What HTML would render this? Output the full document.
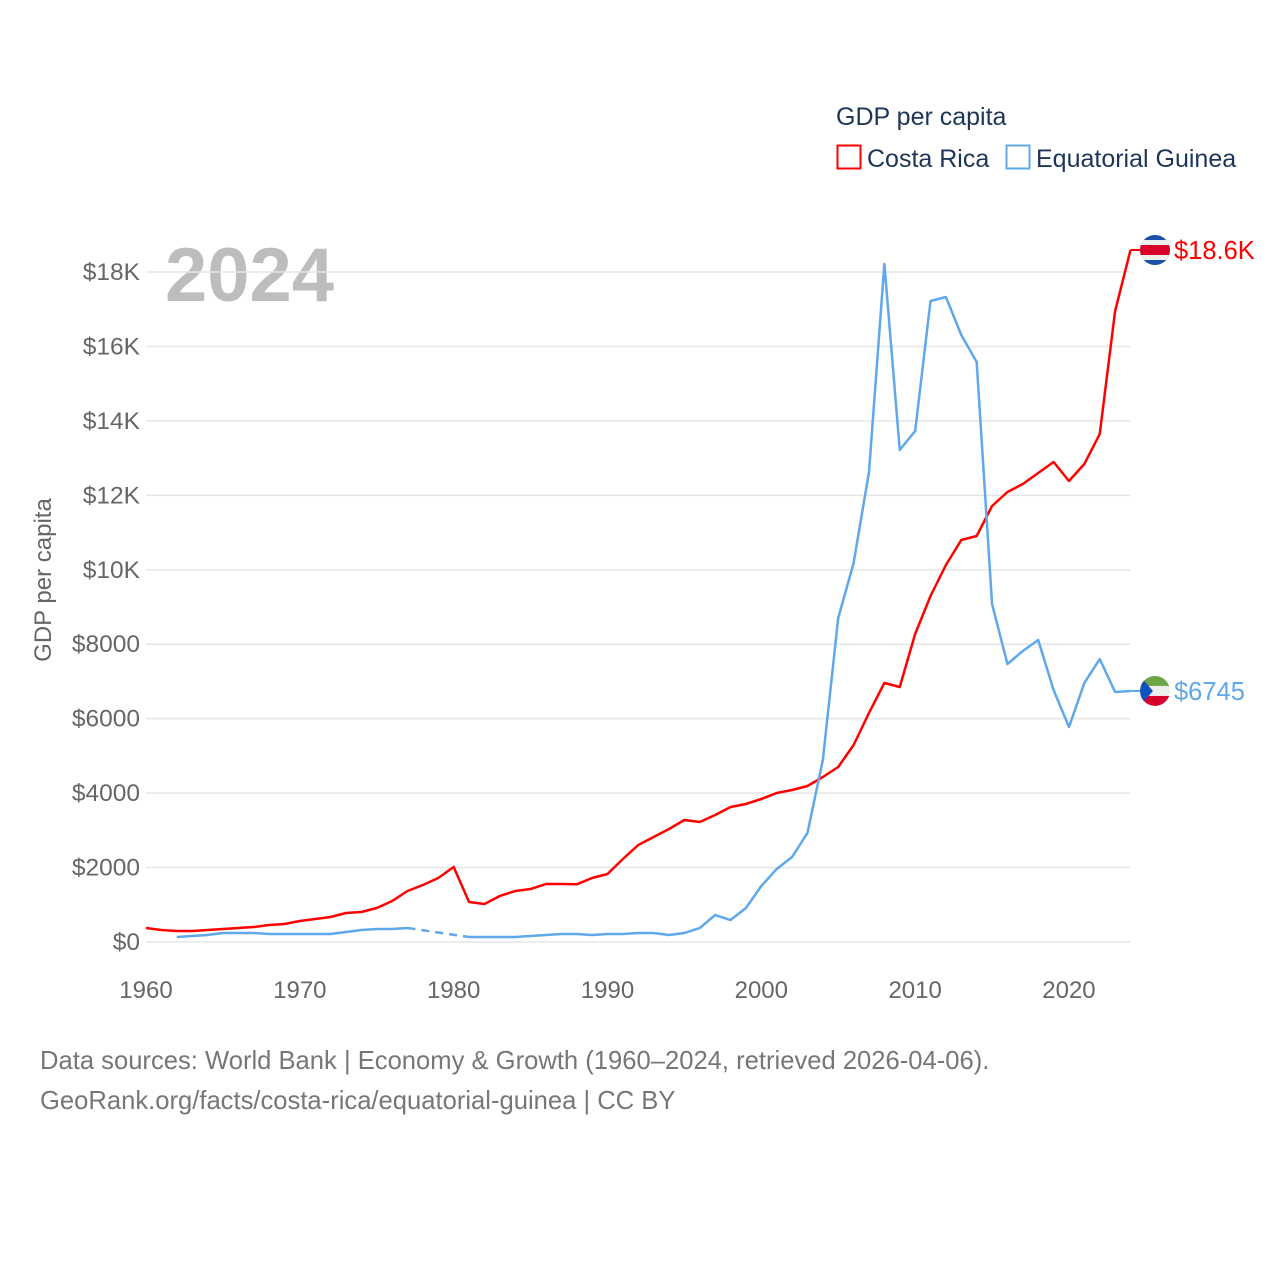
<!DOCTYPE html>
<html><head><meta charset="utf-8"><style>
html,body{margin:0;padding:0;background:#fff;}
svg{display:block;font-family:"Liberation Sans",sans-serif;}
</style></head><body>
<svg id="chart" width="1280" height="1280" viewBox="0 0 1280 1280">
  <g>
    <text x="836" y="125" font-size="25" fill="#1d3557">GDP per capita</text>
    <rect x="837.5" y="145.5" width="23" height="23" fill="none" stroke="#f00" stroke-width="2"/>
    <text x="867" y="167" font-size="25" fill="#1d3557">Costa Rica</text>
    <rect x="1006.5" y="145.5" width="23" height="23" fill="none" stroke="#5fa8ea" stroke-width="2"/>
    <text x="1036" y="167" font-size="25" fill="#1d3557">Equatorial Guinea</text>
  </g>
  <text x="165" y="301" font-size="76" font-weight="bold" fill="#bdbdbd">2024</text>
  <g id="grid"></g>
  <g id="axes"></g>
  <g id="series"></g>
  <text transform="translate(51,580) rotate(-90)" text-anchor="middle" font-size="24" fill="#666">GDP per capita</text>
  <text x="40" y="1069" font-size="25.6" fill="#777">Data sources: World Bank | Economy &amp; Growth (1960–2024, retrieved 2026-04-06).</text>
  <text x="40" y="1109" font-size="25.6" fill="#777">GeoRank.org/facts/costa-rica/equatorial-guinea | CC BY</text>
</svg>
<script>
const years = [];
for (let y = 1960; y <= 2024; y++) years.push(y);
const costaRica = [376,322,296,296,322,349,376,403,457,484,564,618,672,779,806,913,1101,1370,1531,1719,2015,1075,1021,1236,1370,1424,1558,1558,1550,1719,1827,2230,2606,2821,3036,3278,3224,3412,3627,3708,3842,4003,4084,4191,4433,4702,5293,6153,6959,6851,8275,9296,10129,10801,10908,11714,12090,12305,12601,12896,12386,12843,13648,16953,18592];
const eqGuinea = [null,null,134,161,188,242,242,242,215,215,215,215,215,269,322,349,349,376,null,null,null,134,134,134,134,161,188,215,215,188,215,215,242,242,188,242,376,725,591,913,1505,1961,2284,2929,4890,8705,10183,12628,18216,13219,13729,17222,17329,16308,15583,9081,7469,7818,8114,6771,5776,6959,7603,6717,6745];
const yTicks = [0,2000,4000,6000,8000,10000,12000,14000,16000,18000];
const yTickLabels = ["$0","$2000","$4000","$6000","$8000","$10K","$12K","$14K","$16K","$18K"];
const xTicks = [1960,1970,1980,1990,2000,2010,2020];
const endLabels = ["$18.6K","$6745"];

const NS = "http://www.w3.org/2000/svg";
const X0 = 146, X1 = 1130.5, Y0 = 942, PER = 0.03722;
function xs(yr){ return X0 + (yr - 1960) * (X1 - X0) / 64; }
function ys(v){ return Y0 - v * PER; }
function mk(tag, attrs, parent){ const e = document.createElementNS(NS, tag); for (const k in attrs) e.setAttribute(k, attrs[k]); parent.appendChild(e); return e; }

const grid = document.getElementById('grid'), axes = document.getElementById('axes'), series = document.getElementById('series');
yTicks.forEach((t, i) => {
  const l = mk('line', {x1: X0, x2: X1, y1: ys(t), y2: ys(t), stroke: '#e6e6e6', 'stroke-width': 1.5}, grid);
  
  
  const tx = mk('text', {x: 140, y: ys(t) + 8, 'text-anchor': 'end', 'font-size': 24.5, fill: '#666'}, axes);
  tx.textContent = yTickLabels[i];
  
  
});
xTicks.forEach(t => {
  const tx = mk('text', {x: xs(t), y: 998, 'text-anchor': 'middle', 'font-size': 24, fill: '#666'}, axes);
  tx.textContent = t;
  
  
});

function drawSeries(vals, color, name){
  let segs = [], cur = [];
  vals.forEach((v, i) => { if (v == null) { if (cur.length) segs.push(cur); cur = []; } else cur.push([xs(years[i]), ys(v)]); });
  if (cur.length) segs.push(cur);
  segs.forEach(s => {
    const p = mk('polyline', {points: s.map(p => p.join(',')).join(' '), fill: 'none', stroke: color, 'stroke-width': 2.5, 'stroke-linejoin': 'round'}, series);
    
    
  });
  for (let k = 0; k < segs.length - 1; k++) {
    const a = segs[k][segs[k].length - 1], b = segs[k + 1][0];
    const d = mk('line', {x1: a[0], y1: a[1], x2: b[0], y2: b[1], stroke: color, 'stroke-width': 2.5, 'stroke-dasharray': '8,6'}, series);
    
    
  }
}
drawSeries(costaRica, '#ff0000', 'costa-rica');
drawSeries(eqGuinea, '#5fa8ea', 'equatorial-guinea');

const svg = document.getElementById('chart');
function endMarker(val, color, label, name, flag){
  const yy = ys(val), cx = 1155;
  const c = mk('line', {x1: X1, y1: yy, x2: cx - 15, y2: yy, stroke: color, 'stroke-width': 2}, svg);
  
  
  const g = mk('g', {}, svg);
  
  
  const clipId = 'clip-' + name;
  const cp = mk('clipPath', {id: clipId}, g); mk('circle', {cx: cx, cy: yy, r: 15}, cp);
  const inner = mk('g', {'clip-path': 'url(#' + clipId + ')'}, g);
  flag(inner, cx, yy);
  const t = mk('text', {x: 1174, y: yy + 9, 'font-size': 25.5, fill: color}, svg);
  t.textContent = label;
  
  
}
endMarker(costaRica[costaRica.length - 1], '#ff0000', endLabels[0], 'costa-rica', (g, cx, cy) => {
  mk('rect', {x: cx - 15, y: cy - 15, width: 30, height: 30, fill: '#1d4fa8'}, g);
  mk('rect', {x: cx - 15, y: cy - 10, width: 30, height: 20, fill: '#eee'}, g);
  mk('rect', {x: cx - 15, y: cy - 5, width: 30, height: 10, fill: '#d8002a'}, g);
});
endMarker(eqGuinea[eqGuinea.length - 1], '#5fa8ea', endLabels[1], 'equatorial-guinea', (g, cx, cy) => {
  mk('rect', {x: cx - 15, y: cy - 15, width: 30, height: 10, fill: '#6da544'}, g);
  mk('rect', {x: cx - 15, y: cy - 5, width: 30, height: 10, fill: '#eee'}, g);
  mk('rect', {x: cx - 15, y: cy + 5, width: 30, height: 10, fill: '#d8002a'}, g);
  mk('polygon', {points: (cx - 15) + ',' + (cy - 15) + ' ' + (cx - 2) + ',' + cy + ' ' + (cx - 15) + ',' + (cy + 15), fill: '#0f52ba'}, g);
});
</script>
</body></html>
